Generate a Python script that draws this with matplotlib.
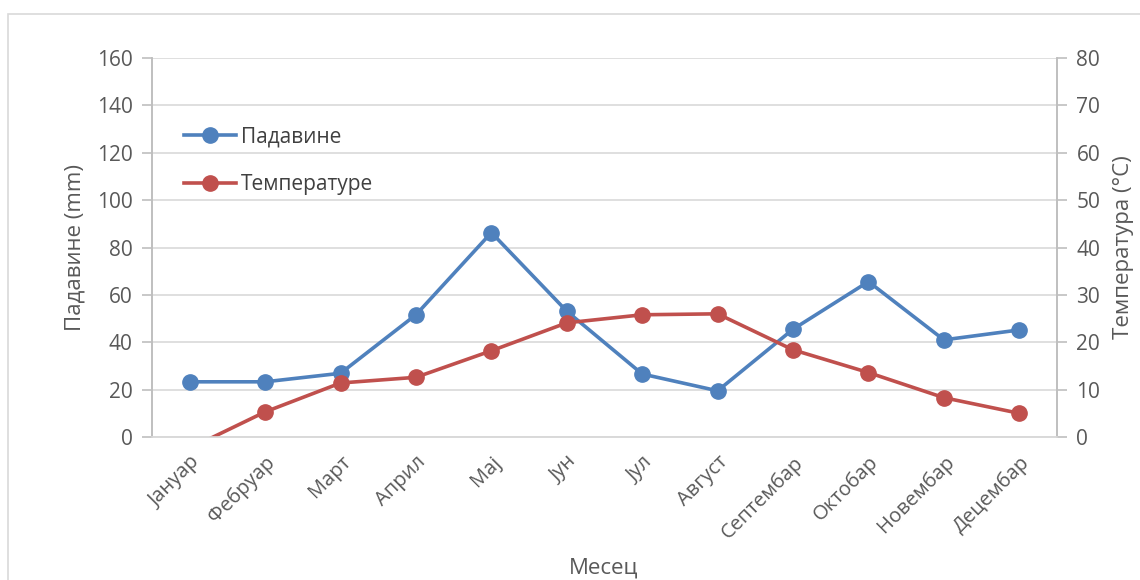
import matplotlib.pyplot as plt
from matplotlib.patches import Rectangle

plt.rcParams['font.family'] = ['Open Sans', 'DejaVu Sans']

meseci = ['Јануар', 'Фебруар', 'Март', 'Април', 'Мај', 'Јун', 'Јул',
          'Август', 'Септембар', 'Октобар', 'Новембар', 'Децембар']
padavine = [23.3, 23.3, 26.9, 51.6, 86.3, 53.1, 26.6, 19.5, 45.5, 65.6, 41.0, 45.2]
temperature = [-2.4, 5.3, 11.4, 12.6, 18.2, 24.1, 25.8, 26.0, 18.4, 13.6, 8.3, 5.0]

siva = '#595959'
plava = '#4F81BD'
crvena = '#C0504D'

fig = plt.figure(figsize=(11.4, 5.8), dpi=100)
# okvir grafikona
fig.patches.append(Rectangle((8 / 1140, -0.1), 1.2, 1 - 14 / 580 + 0.1,
                             transform=fig.transFigure, fill=False,
                             edgecolor='#d9d9d9', linewidth=1.2))

ax = fig.add_axes([152 / 1140, 1 - 437 / 580, (1057 - 152) / 1140, (437 - 58) / 580])
ax2 = ax.twinx()

x = range(len(meseci))
l1, = ax.plot(x, padavine, color=plava, linewidth=2.6, marker='o', markersize=11,
              label='Падавине')
l2, = ax2.plot(x, temperature, color=crvena, linewidth=2.6, marker='o', markersize=11,
               label='Температуре')

ax.set_xlim(-0.5, 11.5)
ax.set_ylim(0, 160)
ax.set_yticks(range(0, 161, 20))
ax2.set_ylim(0, 80)
ax2.set_yticks(range(0, 81, 10))

ax.grid(axis='y', color='#d9d9d9', linewidth=1.2)
ax.set_axisbelow(True)

for a in (ax, ax2):
    a.spines['top'].set_visible(False)
    a.spines['left'].set_color('#bfbfbf')
    a.spines['right'].set_color('#bfbfbf')
    a.spines['bottom'].set_color('#d9d9d9')
    a.spines['left'].set_linewidth(1.2)
    a.spines['right'].set_linewidth(1.2)
    a.spines['bottom'].set_linewidth(1.2)
    a.tick_params(axis='y', colors='#bfbfbf', labelcolor=siva, labelsize=15,
                  length=7, width=1.2)

ax.set_xticks(list(x))
ax.set_xticklabels(meseci, rotation=45, ha='right', va='top', rotation_mode='anchor')
ax.tick_params(axis='x', length=0, labelsize=14.5, labelcolor=siva, pad=11)
ax.tick_params(axis='y', pad=7)
ax2.tick_params(axis='y', pad=7)

ax.set_ylabel('Падавине (mm)', fontsize=16, color=siva, labelpad=8)
ax2.set_ylabel('Температура (°C)', fontsize=16, color=siva, labelpad=9)
fig.text(604 / 1140, 1 - 568 / 580, 'Месец', fontsize=16, color=siva,
         ha='center', va='center')

ax2.legend(handles=[l1, l2], loc='upper left', bbox_to_anchor=(0.015, 0.87),
           frameon=False, fontsize=15, labelcolor='#404040', handlelength=2.5,
           handletextpad=0.2, labelspacing=1.3)

fig.savefig('out.png', dpi=100)
